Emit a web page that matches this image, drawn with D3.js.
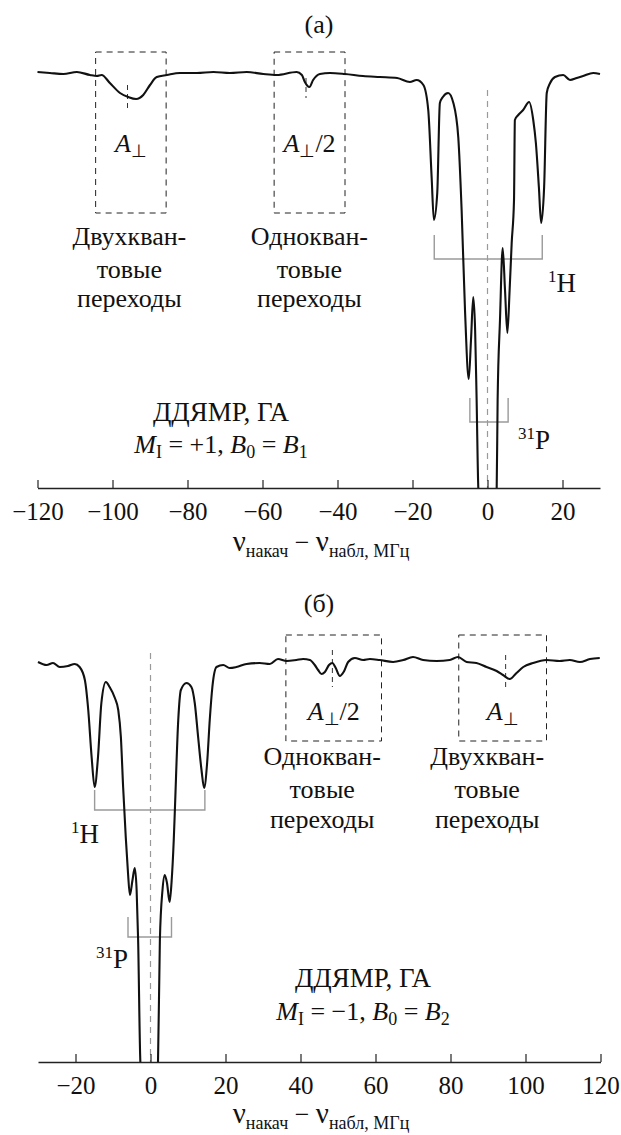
<!DOCTYPE html>
<html>
<head>
<meta charset="utf-8">
<script src="https://cdn.jsdelivr.net/npm/d3@7"></script>
<style>
  body { margin: 0; background: #fff; }
  svg { display: block; }
  text { font-family: "Liberation Serif", "Times New Roman", serif; fill: #111; }
</style>
</head>
<body>
<svg id="chart" width="621" height="1135"></svg>
<script>
// panel (а): M_I = +1, frequency offset in MHz vs signal (arb. units, baseline = 0)
const ticksA = [-120, -100, -80, -60, -40, -20, 0, 20];
const spectrumA = [
  [-120, 1], [-116.7, 0], [-113.1, -1], [-109.5, 1], [-106, -2], [-104.2, -3], [-102.9, -2],
  [-100.7, -10], [-98, -20], [-95.8, -24], [-93.7, -26], [-91.8, -22], [-90, -12], [-88.2, -4],
  [-85.5, -2], [-82, 0], [-77.5, 0], [-73.1, 1], [-68.7, 0], [-64.2, 1], [-59.8, -1], [-56.2, -2],
  [-50.9, 1], [-49.5, -2], [-48.7, -9], [-47.5, -14], [-46.5, -7], [-44.7, -1], [-42, 0], [-38, -1],
  [-33.2, -3], [-28.7, -4], [-24.1, -5], [-20.7, -9], [-18.9, -7], [-17.1, -12], [-15.8, -37],
  [-14.9, -104], [-14.3, -147], [-13.4, -120], [-12.7, -30], [-11.9, -24], [-10.5, -20], [-9.1, -30],
  [-7.8, -64], [-6.9, -137], [-6.0, -237], [-5.0, -306], [-4.4, -267], [-3.8, -224], [-3.3, -257],
  [-2.9, -327], [-2.45, -415], [0, -520], [2.45, -415], [2.7, -327], [3.33, -247], [4.05, -175],
  [4.67, -217], [5.3, -260], [5.9, -217], [6.45, -170], [7.07, -127], [7.3, -47], [8.2, -42],
  [9.5, -37], [11.1, -29], [12.2, -47], [12.9, -70], [13.7, -114], [14.3, -150], [15.1, -114],
  [15.8, -20], [16.7, -10], [18, -4], [20.2, -2], [22, -7], [23.8, -5], [25.5, -3], [28.2, 0], [30, -1]
];
const boxesA = [
  { from: -104.5, to: -85.7, mark: -96, markTop: -12, markBottom: -37, half: false, textAt: -95.5,
    caption: ["Двухкван-", "товые", "переходы"] },
  { from: -56.9, to: -38, mark: -48.4, markTop: -5, markBottom: -25, half: true, textAt: -47.5,
    caption: ["Однокван-", "товые", "переходы"] }
];

// panel (б): M_I = -1
const ticksB = [-20, 0, 20, 40, 60, 80, 100, 120];
const spectrumB = [
  [-30, 0], [-27.7, -3], [-26, -1], [-24.2, -5], [-22, -4], [-20.2, -2], [-18.9, -5], [-17.5, -18],
  [-16.6, -48], [-15.7, -95], [-14.9, -125], [-14, -95], [-13.1, -41], [-11.9, -20], [-10.9, -25],
  [-9.5, -36], [-8.6, -48], [-7.9, -75], [-7.3, -125], [-6.6, -175], [-6, -211], [-5.5, -233],
  [-4.8, -218], [-4.2, -206], [-3.7, -228], [-3.3, -278], [-2.7, -400], [0, -500], [2.0, -400],
  [2.5, -278], [3.2, -228], [3.8, -213], [4.4, -221], [5.1, -240], [5.6, -221], [6.2, -178],
  [6.5, -148], [7.4, -58], [8.1, -28], [9.6, -21], [10.9, -25], [11.8, -41], [12.7, -75],
  [13.6, -108], [14.3, -126], [15.1, -101], [15.8, -58], [16.5, -25], [17.6, -5], [19.4, -3],
  [21.1, -6], [22.9, -5], [25.6, -2], [29.1, -1], [31.8, -2], [34, 3], [36.3, 1], [38.9, 2],
  [40.7, 3], [42.5, 2], [43.8, -3], [44.7, -8], [45.6, -12], [46.5, -10], [47.6, -3], [48.5, -1],
  [49.4, -6], [50.5, -14], [51.5, -10], [52.7, 0], [54.5, 4], [56.7, 2], [58.5, 3], [61.1, 2],
  [64.7, 0], [67.4, 2], [70, 5], [72.7, 2], [76.3, 1], [79.8, 2], [82, 5], [84.3, 0], [86.9, -1],
  [89.6, -5], [92.3, -9], [94, -13], [95.8, -17], [97.6, -11], [99.4, -5], [102, -1], [105.6, 2],
  [109.1, 1], [111.8, 2], [114.5, 0], [117.2, 3], [119.8, 4]
];
const boxesB = [
  { from: 36.1, to: 61.6, mark: 48.5, markTop: 12, markBottom: -25, half: true, textAt: 45.8,
    caption: ["Однокван-", "товые", "переходы"] },
  { from: 82.2, to: 105.6, mark: 94.7, markTop: 7, markBottom: -28, half: false, textAt: 89.8,
    caption: ["Двухкван-", "товые", "переходы"] }
];

const svg = d3.select("#chart");

const panels = [
  { id: "a", title: "(а)", titleY: 33, ticks: ticksA, spectrum: spectrumA, boxes: boxesA,
    xDomain: [-120, 30], xRange: [37.5, 600], axisY: 488, baseY: 73, depth: 415, zeroTop: -17,
    boxTop: 21, boxBottom: -140, symbolY: 152, captionY: [245, 278, 307],
    brackets: [
      { from: -14.2, to: 14.6, top: -162, level: -186, mass: "1", el: "H", lx: 548, ly: 292 },
      { from: -4.7, to: 5.5, top: -325, level: -349, mass: "31", el: "P", lx: 518, ly: 449 }
    ],
    noteX: 221, noteY: [421, 453], sign: "+1", field: "1", labelY: 551 },
  { id: "b", title: "(б)", titleY: 612, ticks: ticksB, spectrum: spectrumB, boxes: boxesB,
    xDomain: [-30, 120], xRange: [38, 600.5], axisY: 1062, baseY: 662, depth: 400, zeroTop: 9,
    boxTop: 27, boxBottom: -79, symbolY: 720, captionY: [765, 798, 828],
    brackets: [
      { from: -14.9, to: 14.5, top: -128, level: -148, mass: "1", el: "H", lx: 71, ly: 843 },
      { from: -6, to: 5.6, top: -255, level: -275, mass: "31", el: "P", lx: 96, ly: 968 }
    ],
    noteX: 363, noteY: [987, 1020], sign: "\u22121", field: "2", labelY: 1123 }
];

panels.forEach(p => drawPanel(p));

function drawPanel(p) {
  const x = d3.scaleLinear().domain(p.xDomain).range(p.xRange);
  const y = d3.scaleLinear().domain([-p.depth, 0]).range([p.axisY, p.baseY]);
  const g = svg.append("g");

  g.append("clipPath").attr("id", "clip-" + p.id)
    .append("rect")
    .attr("x", 0).attr("y", p.axisY - 560)
    .attr("width", 621).attr("height", 560);

  g.append("text")
    .attr("x", 319).attr("y", p.titleY)
    .attr("text-anchor", "middle")
    .attr("font-size", 26)
    .text(p.title);

  // zero offset
  g.append("line")
    .attr("x1", x(0)).attr("x2", x(0))
    .attr("y1", y(p.zeroTop)).attr("y2", p.axisY)
    .attr("stroke", "#9a9a9a")
    .attr("stroke-width", 1.2)
    .attr("stroke-dasharray", "6,5");

  // hyperfine brackets
  p.brackets.forEach(b => {
    g.append("path")
      .attr("d", `M${x(b.from)},${y(b.top)}V${y(b.level)}H${x(b.to)}V${y(b.top)}`)
      .attr("fill", "none")
      .attr("stroke", "#9a9a9a")
      .attr("stroke-width", 1.4);
    const t = g.append("text").attr("x", b.lx).attr("y", b.ly).attr("font-size", 27);
    t.append("tspan").attr("font-size", 17).attr("dy", -10).text(b.mass);
    t.append("tspan").attr("dy", 10).text(b.el);
  });

  // multi-quantum transition boxes
  p.boxes.forEach(b => {
    g.append("rect")
      .attr("x", x(b.from)).attr("y", y(p.boxTop))
      .attr("width", x(b.to) - x(b.from))
      .attr("height", y(p.boxBottom) - y(p.boxTop))
      .attr("fill", "none")
      .attr("stroke", "#222")
      .attr("stroke-width", 1)
      .attr("stroke-dasharray", "6,5");

    g.append("line")
      .attr("x1", x(b.mark)).attr("x2", x(b.mark))
      .attr("y1", y(b.markTop)).attr("y2", y(b.markBottom))
      .attr("stroke", "#333")
      .attr("stroke-width", 1)
      .attr("stroke-dasharray", "5,4");

    const s = g.append("text")
      .attr("x", (x(b.from) + x(b.to)) / 2).attr("y", p.symbolY)
      .attr("text-anchor", "middle")
      .attr("font-size", 26);
    s.append("tspan").attr("font-style", "italic").text("A");
    s.append("tspan").attr("font-size", 18).attr("dy", 5).text("\u22A5");
    if (b.half) s.append("tspan").attr("dy", -5).text("/2");

    b.caption.forEach((line, i) => {
      g.append("text")
        .attr("x", x(b.textAt)).attr("y", p.captionY[i])
        .attr("text-anchor", "middle")
        .attr("font-size", 26)
        .text(line);
    });
  });

  // ENDOR note
  g.append("text")
    .attr("x", p.noteX).attr("y", p.noteY[0])
    .attr("text-anchor", "middle")
    .attr("font-size", 27)
    .text("ДДЯМР, ГА");
  const n = g.append("text")
    .attr("x", p.noteX).attr("y", p.noteY[1])
    .attr("text-anchor", "middle")
    .attr("font-size", 26);
  n.append("tspan").attr("font-style", "italic").text("M");
  n.append("tspan").attr("font-size", 18).attr("dy", 5).text("I");
  n.append("tspan").attr("dy", -5).text(` = ${p.sign}, `);
  n.append("tspan").attr("font-style", "italic").text("B");
  n.append("tspan").attr("font-size", 18).attr("dy", 5).text("0");
  n.append("tspan").attr("dy", -5).text(" = ");
  n.append("tspan").attr("font-style", "italic").text("B");
  n.append("tspan").attr("font-size", 18).attr("dy", 5).text(p.field);

  // spectrum
  const line = d3.line()
    .x(d => x(d[0]))
    .y(d => y(d[1]))
    .curve(d3.curveMonotoneX);

  g.append("path")
    .datum(p.spectrum)
    .attr("clip-path", `url(#clip-${p.id})`)
    .attr("fill", "none")
    .attr("stroke", "#111")
    .attr("stroke-width", 2.1)
    .attr("stroke-linejoin", "round")
    .attr("d", line);

  // axis with inward ticks
  const axis = g.append("g")
    .attr("transform", `translate(0,${p.axisY})`)
    .call(d3.axisBottom(x)
      .tickValues(p.ticks)
      .tickFormat(d3.format("d"))
      .tickSize(-8)
      .tickSizeOuter(0)
      .tickPadding(14));
  axis.attr("font-size", null).attr("font-family", null).attr("color", "#222");
  axis.select(".domain").attr("stroke-width", 1.3);
  axis.selectAll(".tick line").attr("stroke-width", 1.2);
  axis.selectAll(".tick text").attr("font-size", 25).attr("fill", "#111");

  const lbl = g.append("text")
    .attr("x", 321).attr("y", p.labelY)
    .attr("text-anchor", "middle")
    .attr("font-size", 26);
  lbl.append("tspan").attr("font-size", 29).text("\u03BD");
  lbl.append("tspan").attr("font-size", 18).attr("dy", 6).text("накач");
  lbl.append("tspan").attr("dy", -6).text(" \u2212 ");
  lbl.append("tspan").attr("font-size", 29).text("\u03BD");
  lbl.append("tspan").attr("font-size", 18).attr("dy", 6).text("набл, МГц");
}
</script>
</body>
</html>
